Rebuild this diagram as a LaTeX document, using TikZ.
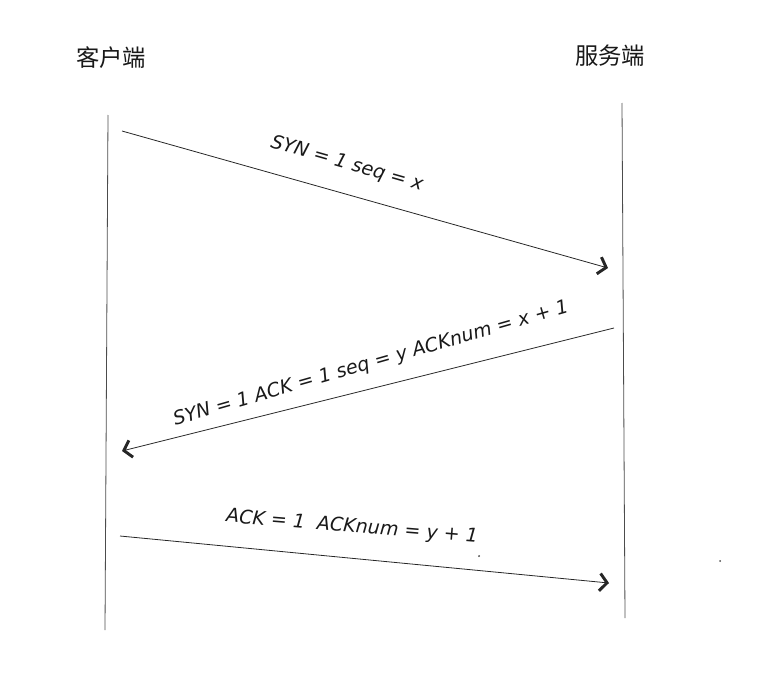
\documentclass[tikz,border=0pt]{standalone}
\usepackage{fontspec}
\newfontfamily\cjk{Noto Sans CJK SC}
\newfontfamily\hand{DejaVu Sans}
\usetikzlibrary{arrows.meta}

\begin{document}
\begin{tikzpicture}[
    x=0.75pt, y=-0.75pt,
    lifeline/.style={draw=black!70, line width=0.6pt},
    msg/.style={draw=black!85, line width=0.6pt,
        -{Straight Barb[length=5.5pt, width=13pt, line width=2.2pt]}},
    party/.style={font=\cjk\fontsize{17.5}{20}\selectfont, text=black!90},
    msglabel/.style={font=\hand\itshape\fontsize{14.3}{16}\selectfont,
        text=black!90, inner sep=1pt},
    speck/.style={fill=black!70, draw=none},
]
\useasboundingbox (0,0) rectangle (770,674);

% parties
\node[party] (client) at (111,58) {客户端};
\node[party] (server) at (610,56) {服务端};

% lifelines
\coordinate (ctop) at (108,115);
\coordinate (cbot) at (105,630);
\coordinate (stop) at (622,103);
\coordinate (sbot) at (625,618);
\draw[lifeline] (ctop) -- (cbot);
\draw[lifeline] (stop) -- (sbot);

% handshake messages
\coordinate (syn1) at (122,131);
\coordinate (syn2) at (608,268);
\coordinate (sa1) at (614,328);
\coordinate (sa2) at (122,451);
\coordinate (ack1) at (120,536);
\coordinate (ack2) at (609,583);

\draw[msg] (syn1) -- (syn2);
\draw[msg] (sa1) -- (sa2);
\draw[msg] (ack1) -- (ack2);

\node[msglabel, rotate=-16] (synlabel) at (347,164) {SYN = 1 seq = x};
\node[msglabel, rotate=16] (salabel) at (371,364)
    {SYN = 1 ACK = 1 seq = y ACKnum = x + 1};
\node[msglabel, rotate=-4.6] (acklabel) at (352,527) {ACK = 1\ \ ACKnum = y + 1};

% stray specks
\fill[speck] (479,556) circle (1);
\fill[speck] (720,561) circle (1);
\end{tikzpicture}
\end{document}
